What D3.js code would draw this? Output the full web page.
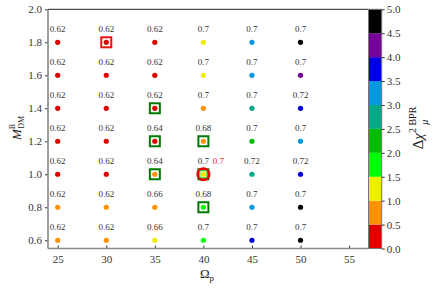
<!DOCTYPE html>
<html>
<head>
<meta charset="utf-8">
<script src="https://cdn.jsdelivr.net/npm/d3@7"></script>
<style>
  body { margin: 0; background: #fff; }
  svg text { font-family: "Liberation Serif", "DejaVu Serif", serif; }
</style>
</head>
<body>
<svg id="chart" width="436" height="288"></svg>
<script>
// grid of the scan
var omegas = [25, 30, 35, 40, 45, 50]
var masses = [1.8, 1.6, 1.4, 1.2, 1.0, 0.8, 0.6]

// delta chi^2, one row per mass
var chi2 = [
  [0.25, 0.25, 0.25, 1.25, 3.25, 4.75],
  [0.25, 0.25, 0.25, 1.25, 3.25, 4.25],
  [0.25, 0.25, 0.25, 0.75, 2.75, 3.75],
  [0.25, 0.25, 0.25, 0.75, 2.25, 3.25],
  [0.25, 0.25, 0.75, 1.25, 2.75, 3.75],
  [0.75, 0.75, 0.75, 1.75, 3.25, 4.75],
  [0.75, 0.75, 1.25, 1.75, 3.75, 4.75]
]

// number printed above each point
var labels = [
  ["0.62", "0.62", "0.62", "0.7", "0.7", "0.7"],
  ["0.62", "0.62", "0.62", "0.7", "0.7", "0.7"],
  ["0.62", "0.62", "0.62", "0.7", "0.7", "0.72"],
  ["0.62", "0.62", "0.64", "0.68", "0.7", "0.7"],
  ["0.62", "0.62", "0.64", "0.7", "0.72", "0.72"],
  ["0.62", "0.62", "0.66", "0.68", "0.7", "0.7"],
  ["0.62", "0.62", "0.66", "0.7", "0.7", "0.7"]
]

// highlighted points
var greenBoxes = [[35, 1.4], [35, 1.2], [40, 1.2], [35, 1.0], [40, 0.8], [40, 1.0]]
var redBox = [30, 1.8]
var redCircle = [40, 1.0]
var redLabel = "0.7"

var binEdges = [0, 0.5, 1, 1.5, 2, 2.5, 3, 3.5, 4, 4.5, 5]
var binColors = ["#dd0000", "#ff9200", "#eeee00", "#00ff00", "#00bb00",
                 "#00aa88", "#0099dd", "#0000dd", "#770099", "#000000"]
var xTicks = [25, 30, 35, 40, 45, 50, 55]
var yTicks = [0.6, 0.8, 1.0, 1.2, 1.4, 1.6, 1.8, 2.0]
var cTicks = [0, 0.5, 1, 1.5, 2, 2.5, 3, 3.5, 4, 4.5, 5]

var dims = { left: 48, right: 368.5, top: 9.3, bottom: 248.5, cbLeft: 368.5, cbRight: 381.7 }

var svg = d3.select("#chart")

var xScale = d3.scaleLinear().domain([24, 57]).range([dims.left, dims.right])
var yScale = d3.scaleLinear().domain([0.55, 2.0]).range([dims.bottom, dims.top])
var cScale = d3.scaleLinear().domain([0, 5]).range([dims.bottom, dims.top])
var color = d3.scaleThreshold().domain(binEdges.slice(1, -1)).range(binColors)

// flatten the grid
var points = []
masses.forEach(function(m, i) {
  omegas.forEach(function(o, j) {
    points.push({ x: o, y: m, v: chi2[i][j], label: labels[i][j] })
  })
})

// axes
var xAxis = svg.append("g")
  .attr("transform", "translate(0," + dims.bottom + ")")
  .call(d3.axisBottom(xScale).tickValues(xTicks).tickSize(-3).tickPadding(7).tickFormat(d3.format("d")))
var yAxis = svg.append("g")
  .attr("transform", "translate(" + dims.left + ",0)")
  .call(d3.axisLeft(yScale).tickValues(yTicks).tickSize(3).tickPadding(3).tickFormat(d3.format(".1f")))
;[xAxis, yAxis].forEach(function(a) {
  a.select(".domain").remove()
  a.selectAll(".tick line").attr("stroke", "#333")
  a.selectAll(".tick text").attr("font-size", 11).attr("fill", "#333")
})

// spines
svg.append("line").attr("x1", dims.left).attr("x2", dims.right)
  .attr("y1", dims.top).attr("y2", dims.top).attr("stroke", "#222").attr("stroke-width", 1)
svg.append("line").attr("x1", dims.left).attr("x2", dims.left)
  .attr("y1", dims.top).attr("y2", dims.bottom).attr("stroke", "#888").attr("stroke-width", 1.6)
svg.append("line").attr("x1", dims.left).attr("x2", dims.right)
  .attr("y1", dims.bottom).attr("y2", dims.bottom).attr("stroke", "#888").attr("stroke-width", 1.6)

// boxes behind the dots
svg.append("g").selectAll("rect")
  .data(greenBoxes)
  .enter().append("rect")
  .attr("x", d => xScale(d[0]) - 5)
  .attr("y", d => yScale(d[1]) - 5)
  .attr("width", 10).attr("height", 10)
  .attr("fill", "#fff").attr("stroke", "#007a00").attr("stroke-width", 2)

svg.append("rect")
  .attr("x", xScale(redBox[0]) - 5).attr("y", yScale(redBox[1]) - 5)
  .attr("width", 10).attr("height", 10)
  .attr("fill", "#fff").attr("stroke", "#ee1111").attr("stroke-width", 2)

svg.append("circle")
  .attr("cx", xScale(redCircle[0])).attr("cy", yScale(redCircle[1]))
  .attr("r", 5.5)
  .attr("fill", "#fff").attr("stroke", "#ee0000").attr("stroke-width", 3)
svg.append("rect")
  .attr("x", xScale(redCircle[0]) - 3.5).attr("y", yScale(redCircle[1]) - 3.5)
  .attr("width", 7).attr("height", 7)
  .attr("fill", "#fff").attr("stroke", "#22cc22").attr("stroke-width", 1)

// dots
svg.append("g").selectAll("circle")
  .data(points)
  .enter().append("circle")
  .attr("cx", d => xScale(d.x))
  .attr("cy", d => yScale(d.y))
  .attr("r", 2.6)
  .attr("fill", d => color(d.v))

// numbers above points
svg.append("g").selectAll("text")
  .data(points)
  .enter().append("text")
  .attr("x", d => xScale(d.x))
  .attr("y", d => yScale(d.y) - 10)
  .attr("text-anchor", "middle")
  .attr("font-size", 9)
  .attr("fill", "#333")
  .text(d => d.label)

svg.append("text")
  .attr("x", xScale(redCircle[0]) + 15)
  .attr("y", yScale(redCircle[1]) - 10)
  .attr("text-anchor", "middle")
  .attr("font-size", 9)
  .attr("fill", "#ee2222")
  .text(redLabel)

// colour bar
svg.append("g").selectAll("rect")
  .data(binColors)
  .enter().append("rect")
  .attr("x", dims.cbLeft)
  .attr("y", (d, i) => cScale(binEdges[i + 1]))
  .attr("width", dims.cbRight - dims.cbLeft)
  .attr("height", (d, i) => cScale(binEdges[i]) - cScale(binEdges[i + 1]))
  .attr("fill", d => d)
svg.append("rect")
  .attr("x", dims.cbLeft).attr("y", dims.top)
  .attr("width", dims.cbRight - dims.cbLeft).attr("height", dims.bottom - dims.top)
  .attr("fill", "none").attr("stroke", "#777").attr("stroke-width", 1)

var cAxis = svg.append("g")
  .attr("transform", "translate(" + dims.cbRight + ",0)")
  .call(d3.axisRight(cScale).tickValues(cTicks).tickSize(3).tickPadding(2).tickFormat(d3.format(".1f")))
cAxis.select(".domain").remove()
cAxis.selectAll(".tick line").attr("stroke", "#333")
cAxis.selectAll(".tick text").attr("font-size", 11).attr("fill", "#333")

// axis titles
var xt = svg.append("text")
  .attr("x", 207).attr("y", 278)
  .attr("text-anchor", "middle")
  .attr("font-size", 13).attr("fill", "#222")
xt.append("tspan").text("Ω")
xt.append("tspan").attr("font-size", 9).attr("dy", 3).text("p")

var yt = svg.append("text")
  .attr("transform", "translate(21,128) rotate(-90)")
  .attr("text-anchor", "middle")
  .attr("font-size", 13).attr("fill", "#222")
yt.append("tspan").attr("font-style", "italic").text("M")
yt.append("tspan").attr("font-size", 8).attr("dy", -6).text("B")
yt.append("tspan").attr("font-size", 8).attr("dx", -5).attr("dy", 9).text("DM")

var ct = svg.append("text")
  .attr("transform", "translate(423,128) rotate(-90)")
  .attr("text-anchor", "middle")
  .attr("font-size", 15).attr("fill", "#222")
ct.append("tspan").text("Δ")
ct.append("tspan").attr("font-style", "italic").text("χ")
ct.append("tspan").attr("font-size", 10).attr("dy", -7).text("2 BPR")
ct.append("tspan").attr("font-size", 10).attr("font-style", "italic").attr("dx", -18).attr("dy", 12).text("μ")
</script>
</body>
</html>
